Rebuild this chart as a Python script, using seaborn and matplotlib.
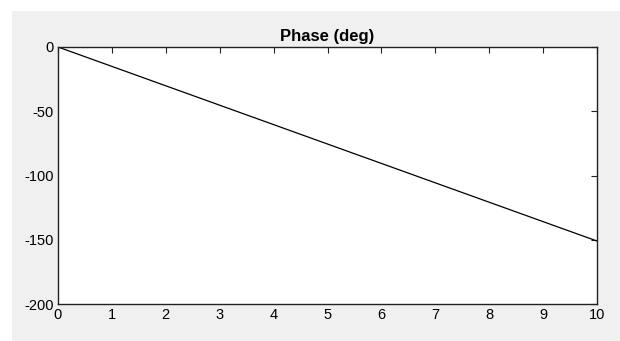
import numpy as np
import pandas as pd
import seaborn as sns
import matplotlib.pyplot as plt
from matplotlib.patches import Rectangle

# values (frequency vs phase, straight line)
freq = [0, 1, 2, 3, 4, 5, 6, 7, 8, 9, 10]
phase = [0, -15.1, -30.2, -45.3, -60.4, -75.5, -90.6, -105.7, -120.8, -135.9, -151.0]
xticks = [0, 1, 2, 3, 4, 5, 6, 7, 8, 9, 10]
yticks = [0, -50, -100, -150, -200]

sns.set_style('white')
plt.rcParams['font.family'] = ['Liberation Sans', 'DejaVu Sans']
plt.rcParams['axes.unicode_minus'] = False

df = pd.DataFrame({'freq': freq, 'phase': phase})

fig = plt.figure(figsize=(6.2, 3.41), dpi=100, facecolor='white')
# grey MATLAB-like figure panel
fig.patches.append(Rectangle((12 / 620, 0), 1.1, (341 - 11) / 341,
                             transform=fig.transFigure, facecolor='#f0f0f0',
                             edgecolor='none', zorder=-1))

ax = fig.add_axes([58 / 620, (341 - 304) / 341, (597 - 58) / 620, (304 - 47) / 341])
sns.lineplot(data=df, x='freq', y='phase', ax=ax, color='black', linewidth=0.9)

ax.set_xlim(0, 10)
ax.set_ylim(-200, 0)
ax.set_xticks(xticks)
ax.set_yticks(yticks)
ax.set_xlabel('')
ax.set_ylabel('')
ax.set_title('Phase (deg)', fontsize=12, fontweight='bold', color='black', pad=4)

for s in ax.spines.values():
    s.set_visible(True)
    s.set_color('#222222')
    s.set_linewidth(1.0)

ax.tick_params(direction='in', length=4, width=0.8, colors='#222222',
               top=True, right=True, labelsize=10.5, labelcolor='black', pad=3)

fig.savefig('out.png', dpi=100, facecolor=fig.get_facecolor())
